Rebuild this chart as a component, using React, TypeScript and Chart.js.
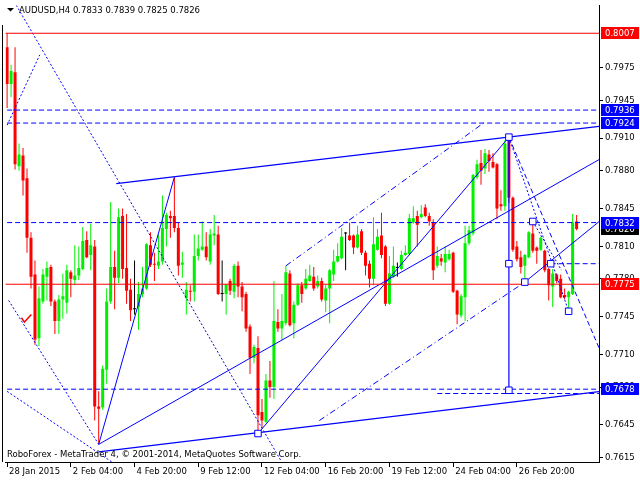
import React, { useEffect, useRef } from "react";
import { Chart, registerables } from "chart.js";

Chart.register(...registerables);

// ---------------- data (AUDUSD, H4) ----------------
const symbolName = "AUDUSD";
const periodName = "H4";

const opens = [
  0.7994, 0.7960, 0.7971, 0.7884, 0.7894, 0.7873, 0.7818, 0.7784, 0.7725, 0.7759,
  0.7782, 0.7791, 0.7759, 0.7741, 0.7761, 0.7758, 0.7786, 0.7779, 0.7783, 0.7789,
  0.7816, 0.7802, 0.7810, 0.7662, 0.7661, 0.7696, 0.7759, 0.7791, 0.7781, 0.7838,
  0.7790, 0.7770, 0.7752, 0.7754, 0.7766, 0.7771, 0.7811, 0.7794, 0.7792, 0.7796,
  0.7826, 0.7838, 0.7838, 0.7827, 0.7793, 0.7762, 0.7769, 0.7768, 0.7801, 0.7807,
  0.7810, 0.7796, 0.7820, 0.7821, 0.7766, 0.7766, 0.7778, 0.7768, 0.7792, 0.7773,
  0.7766, 0.7736, 0.7707, 0.7716, 0.7657, 0.7648, 0.7686, 0.7680, 0.7740, 0.7734,
  0.7739, 0.7785, 0.7739, 0.7756, 0.7774, 0.7771, 0.7778, 0.7782, 0.7773, 0.7778,
  0.7760, 0.7771, 0.7784, 0.7796, 0.7799, 0.7822, 0.7820, 0.7820, 0.7809, 0.7824,
  0.7804, 0.7794, 0.7780, 0.7807, 0.7820, 0.7810, 0.7757, 0.7782, 0.7790, 0.7789,
  0.7802, 0.7803, 0.7832, 0.7838, 0.7837, 0.7846, 0.7838, 0.7832, 0.7792, 0.7799,
  0.7795, 0.7798, 0.7804, 0.7769, 0.7746, 0.7763, 0.7813, 0.7822, 0.7874, 0.7887,
  0.7882, 0.7895, 0.7888, 0.7886, 0.7849, 0.7847, 0.7911, 0.7855, 0.7810, 0.7800,
  0.7792, 0.7800, 0.7822, 0.7809, 0.7807, 0.7806, 0.7789, 0.7773, 0.7784, 0.7780,
  0.7765, 0.7763, 0.7766, 0.7833,
];

const highs = [
  0.8007, 0.7978, 0.7994, 0.7905, 0.7901, 0.7882, 0.7823, 0.7797, 0.7773, 0.7789,
  0.7796, 0.7793, 0.7761, 0.7765, 0.7785, 0.7793, 0.7788, 0.7811, 0.7810, 0.7828,
  0.7824, 0.7831, 0.7816, 0.7676, 0.7700, 0.7771, 0.7851, 0.7806, 0.7845, 0.7845,
  0.7840, 0.7780, 0.7797, 0.7777, 0.7791, 0.7813, 0.7823, 0.7804, 0.7821, 0.7857,
  0.7841, 0.7843, 0.7874, 0.7832, 0.7805, 0.7777, 0.7774, 0.7821, 0.7821, 0.7833,
  0.7823, 0.7826, 0.7839, 0.7829, 0.7797, 0.7775, 0.7780, 0.7794, 0.7796, 0.7777,
  0.7768, 0.7738, 0.7719, 0.7727, 0.7669, 0.7692, 0.7704, 0.7778, 0.7752, 0.7766,
  0.7792, 0.7788, 0.7759, 0.7776, 0.7777, 0.7789, 0.7793, 0.7791, 0.7783, 0.7781,
  0.7775, 0.7789, 0.7807, 0.7813, 0.7827, 0.7823, 0.7832, 0.7821, 0.7829, 0.7826,
  0.7806, 0.7797, 0.7837, 0.7826, 0.7841, 0.7811, 0.7801, 0.7810, 0.7795, 0.7806,
  0.7811, 0.7840, 0.7847, 0.7843, 0.7848, 0.7849, 0.7841, 0.7835, 0.7810, 0.7803,
  0.7810, 0.7807, 0.7805, 0.7770, 0.7766, 0.7829, 0.7829, 0.7877, 0.7890, 0.7899,
  0.7900, 0.7899, 0.7896, 0.7887, 0.7862, 0.7908, 0.7911, 0.7856, 0.7815, 0.7806,
  0.7803, 0.7824, 0.7833, 0.7810, 0.7819, 0.7807, 0.7790, 0.7789, 0.7785, 0.7784,
  0.7771, 0.7769, 0.7840, 0.7839,
];

const lows = [
  0.7938, 0.7948, 0.7881, 0.7880, 0.7857, 0.7804, 0.7771, 0.7719, 0.7718, 0.7757,
  0.7760, 0.7755, 0.7729, 0.7729, 0.7743, 0.7748, 0.7763, 0.7774, 0.7779, 0.7788,
  0.7799, 0.7788, 0.7649, 0.7627, 0.7659, 0.7683, 0.7757, 0.7752, 0.7776, 0.7780,
  0.7757, 0.7741, 0.7747, 0.7733, 0.7763, 0.7770, 0.7791, 0.7778, 0.7789, 0.7793,
  0.7810, 0.7818, 0.7823, 0.7783, 0.7781, 0.7747, 0.7759, 0.7759, 0.7797, 0.7806,
  0.7797, 0.7793, 0.7811, 0.7765, 0.7759, 0.7747, 0.7765, 0.7762, 0.7763, 0.7750,
  0.7731, 0.7692, 0.7702, 0.7638, 0.7642, 0.7647, 0.7670, 0.7669, 0.7731, 0.7723,
  0.7737, 0.7736, 0.7725, 0.7755, 0.7758, 0.7770, 0.7777, 0.7769, 0.7771, 0.7759,
  0.7749, 0.7739, 0.7778, 0.7795, 0.7798, 0.7788, 0.7815, 0.7803, 0.7808, 0.7802,
  0.7783, 0.7772, 0.7774, 0.7806, 0.7799, 0.7755, 0.7756, 0.7781, 0.7782, 0.7788,
  0.7801, 0.7802, 0.7831, 0.7810, 0.7836, 0.7837, 0.7829, 0.7779, 0.7790, 0.7792,
  0.7786, 0.7797, 0.7767, 0.7738, 0.7744, 0.7741, 0.7811, 0.7820, 0.7872, 0.7867,
  0.7877, 0.7879, 0.7882, 0.7835, 0.7843, 0.7843, 0.7850, 0.7805, 0.7796, 0.7785,
  0.7777, 0.7799, 0.7804, 0.7794, 0.7806, 0.7786, 0.7760, 0.7754, 0.7776, 0.7762,
  0.7761, 0.7750, 0.7765, 0.7825,
];

const closes = [
  0.7960, 0.7972, 0.7886, 0.7895, 0.7871, 0.7818, 0.7782, 0.7724, 0.7762, 0.7784,
  0.7790, 0.7759, 0.7741, 0.7761, 0.7764, 0.7788, 0.7780, 0.7783, 0.7790, 0.7815,
  0.7800, 0.7811, 0.7662, 0.7660, 0.7697, 0.7759, 0.7791, 0.7781, 0.7837, 0.7789,
  0.7769, 0.7751, 0.7752, 0.7766, 0.7771, 0.7812, 0.7793, 0.7793, 0.7796, 0.7827,
  0.7839, 0.7836, 0.7827, 0.7792, 0.7795, 0.7770, 0.7768, 0.7801, 0.7808, 0.7810,
  0.7800, 0.7821, 0.7822, 0.7766, 0.7766, 0.7775, 0.7769, 0.7792, 0.7773, 0.7763,
  0.7734, 0.7707, 0.7717, 0.7654, 0.7649, 0.7686, 0.7680, 0.7741, 0.7734, 0.7741,
  0.7786, 0.7737, 0.7756, 0.7774, 0.7766, 0.7780, 0.7783, 0.7771, 0.7778, 0.7761,
  0.7771, 0.7788, 0.7796, 0.7801, 0.7819, 0.7822, 0.7816, 0.7809, 0.7821, 0.7804,
  0.7792, 0.7780, 0.7812, 0.7819, 0.7802, 0.7757, 0.7785, 0.7792, 0.7790, 0.7802,
  0.7804, 0.7836, 0.7836, 0.7830, 0.7840, 0.7838, 0.7833, 0.7788, 0.7801, 0.7796,
  0.7803, 0.7803, 0.7768, 0.7747, 0.7764, 0.7813, 0.7825, 0.7876, 0.7886, 0.7880,
  0.7896, 0.7889, 0.7883, 0.7845, 0.7847, 0.7905, 0.7855, 0.7807, 0.7798, 0.7791,
  0.7802, 0.7823, 0.7806, 0.7806, 0.7818, 0.7788, 0.7774, 0.7785, 0.7778, 0.7763,
  0.7763, 0.7768, 0.7832, 0.7826,
];

// time axis: bar index of each label and its text
const timeTickBars = [0, 16, 32, 48, 64, 80, 96, 112, 128];
const timeTickLabels = [
  "28 Jan 2015", "2 Feb 04:00", "4 Feb 20:00", "9 Feb 12:00", "12 Feb 04:00",
  "16 Feb 20:00", "19 Feb 12:00", "24 Feb 04:00", "26 Feb 20:00",
];

// price axis ticks
const priceTicks = [0.7975, 0.7945, 0.7910, 0.7880, 0.7845, 0.7810, 0.7780, 0.7745, 0.7710, 0.7680, 0.7645, 0.7615];

// price tags at the right edge (drawn in this order)
const tagPrices = [0.8007, 0.7936, 0.7924, 0.7826, 0.7832, 0.7775, 0.7678];

// horizontal levels
const redLevels = [0.8007, 0.7775];
const dashedLevels = [0.7936, 0.7924, 0.7832, 0.7678];
const shortDashedLevels = [0.7794, 0.7674];
const shortDashedStarts = [136.5, 108];

// trend lines: [bar index, price]
const channelTop = [[27.4, 0.7868], [149, 0.7921]];
const channelBottom = [[23, 0.7620], [149, 0.7676]];
const riseFromFebLow = [[23, 0.7627], [42, 0.7874]];
const riseFromMidLow = [[63, 0.7637], [126, 0.7911]];
const longRise = [[23, 0.7627], [149, 0.7891]];
const riseRight = [[130, 0.7777], [149, 0.7834]];
const verticalLine = [[126, 0.7911], [126, 0.7677]];
const dottedFall = [[2.3, 0.8033], [68.9, 0.7611]];
const dottedRiseLeft = [[0, 0.7922], [8.2, 0.7987]];
const dottedFallLeft = [[0.4, 0.7760], [23, 0.7627]];
const dottedFallLow = [[0, 0.7676], [27, 0.7609]];
const dashDotUpper = [[70, 0.7792], [120, 0.7925]];
const dashDotLower = [[78.4, 0.7649], [130, 0.7777]];
const dottedFromTop = [[126, 0.7911], [141, 0.7750]];
const dashedFromTop = [[126, 0.7911], [149, 0.7713]];
const dottedFromHigh = [[132, 0.7833], [139.2, 0.7788]];
const anchorSquares = [
  [63, 0.7637], [126, 0.7911], [126, 0.7794], [126, 0.7677],
  [132, 0.7833], [130, 0.7777], [136.5, 0.7794], [141, 0.7750],
];
const checkMark = [[3.6, 0.7744], [4.35, 0.7740], [6.1, 0.7747]];

const copyrightText = "RoboForex - MetaTrader 4, \u00A9 2001-2014, MetaQuotes Software Corp.";

// ---------------- view settings ----------------
const BULL = "#00F000";
const BEAR = "#FF0000";
const DOJI = "#000000";
const BLUE = "#0000FF";
const RED = "#FF0000";
const FONT = '"DejaVu Sans", sans-serif';
const FS = 8.5;
const tagColors = [RED, BLUE, BLUE, "#000000", BLUE, RED, BLUE];

const X_MIN = -0.375;
const X_MAX = 148.625;
const Y_MAX = 0.8007 + 28 / 10951;
const Y_MIN = 0.8007 - 434 / 10951;

const DASH = [5, 3];
const DOT = [2, 2];
const DASHDOT = [6, 3, 1, 3];

function toPts(arr: number[][]) {
  return arr.map(([x, y]) => ({ x, y }));
}

function lineDs(arr: number[][], color: string, dash: number[], width = 1) {
  return {
    type: "line" as const,
    data: toPts(arr),
    borderColor: color,
    borderWidth: width,
    borderDash: dash,
    pointRadius: 0,
    pointHoverRadius: 0,
    fill: false,
    tension: 0,
    order: 1,
  };
}

const overlayPlugin = {
  id: "mt4overlay",
  afterDraw(chart: any) {
    const ctx = chart.ctx as CanvasRenderingContext2D;
    const ys = chart.scales.y;
    ctx.save();
    // left frame line
    ctx.fillStyle = "#000";
    ctx.fillRect(2, 25, 1, 437);
    // price tags
    ctx.font = `${FS}px ${FONT}`;
    ctx.textBaseline = "middle";
    ctx.textAlign = "left";
    tagPrices.forEach((p, k) => {
      const yy = Math.round(ys.getPixelForValue(p));
      ctx.fillStyle = tagColors[k];
      ctx.fillRect(601, yy - 6, 38, 12);
      ctx.fillStyle = "#FFFFFF";
      ctx.fillText(p.toFixed(4), 605, yy + 0.5);
    });
    // title
    const n = opens.length - 1;
    ctx.fillStyle = "#000";
    ctx.beginPath();
    ctx.moveTo(7, 8);
    ctx.lineTo(14, 8);
    ctx.lineTo(10.5, 11.5);
    ctx.closePath();
    ctx.fill();
    const title = `${symbolName},${periodName} ${opens[n].toFixed(4)} ${highs[n].toFixed(4)} ${lows[n].toFixed(4)} ${closes[n].toFixed(4)}`;
    ctx.fillText(title, 19, 10.5);
    // copyright
    ctx.fillText(copyrightText, 7, 455);
    ctx.restore();
  },
};

export default function App() {
  const ref = useRef<HTMLCanvasElement>(null);

  useEffect(() => {
    const canvas = ref.current;
    if (!canvas) return;
    const idx = opens.map((_, i) => i);
    const colors = idx.map((i) =>
      closes[i] > opens[i] ? BULL : closes[i] < opens[i] ? BEAR : DOJI
    );

    const datasets: any[] = [
      {
        type: "bar",
        data: idx.map((i) => ({ x: i, y: [lows[i], highs[i]] })),
        backgroundColor: colors,
        barThickness: 1,
        grouped: false,
        minBarLength: 1,
        inflateAmount: 0,
        borderWidth: 0,
        order: 20,
      },
      {
        type: "bar",
        data: idx.map((i) => ({ x: i, y: [opens[i], closes[i]] })),
        backgroundColor: colors,
        barThickness: 3,
        grouped: false,
        minBarLength: 1,
        inflateAmount: 0,
        borderWidth: 0,
        order: 19,
      },
    ];

    redLevels.forEach((v) => datasets.push(lineDs([[-2, v], [151, v]], RED, [])));
    dashedLevels.forEach((v) => datasets.push(lineDs([[-2, v], [151, v]], BLUE, DASH)));
    shortDashedLevels.forEach((v, k) =>
      datasets.push(lineDs([[shortDashedStarts[k], v], [151, v]], BLUE, DASH))
    );
    datasets.push(lineDs(channelTop, BLUE, [], 1.2));
    datasets.push(lineDs(channelBottom, BLUE, [], 1.2));
    datasets.push(lineDs(riseFromFebLow, BLUE, []));
    datasets.push(lineDs(riseFromMidLow, BLUE, []));
    datasets.push(lineDs(longRise, BLUE, []));
    datasets.push(lineDs(riseRight, BLUE, []));
    datasets.push(lineDs(verticalLine, BLUE, [], 1.2));
    datasets.push(lineDs(dottedFall, BLUE, DOT));
    datasets.push(lineDs(dottedRiseLeft, BLUE, DOT));
    datasets.push(lineDs(dottedFallLeft, BLUE, DOT));
    datasets.push(lineDs(dottedFallLow, BLUE, DOT));
    datasets.push(lineDs(dashDotUpper, BLUE, DASHDOT));
    datasets.push(lineDs(dashDotLower, BLUE, DASHDOT));
    datasets.push(lineDs(dottedFromTop, BLUE, DOT));
    datasets.push(lineDs(dashedFromTop, BLUE, DASH));
    datasets.push(lineDs(dottedFromHigh, BLUE, DOT));
    datasets.push(lineDs(checkMark, RED, [], 1.5));
    datasets.push({
      type: "line",
      data: toPts(anchorSquares),
      showLine: false,
      pointStyle: "rect",
      pointRadius: 4.6,
      pointHoverRadius: 4.6,
      pointBackgroundColor: "#FFFFFF",
      pointBorderColor: BLUE,
      pointBorderWidth: 1,
      order: 0,
    });

    const tickFont = { family: FONT, size: FS };

    const chart = new Chart(canvas, {
      type: "bar",
      data: { datasets },
      plugins: [overlayPlugin],
      options: {
        responsive: false,
        maintainAspectRatio: false,
        devicePixelRatio: 1,
        animation: false,
        events: [],
        layout: { padding: { left: 3, top: 0, right: 0, bottom: 0 } },
        plugins: {
          legend: { display: false },
          tooltip: { enabled: false },
          title: { display: false },
        },
        scales: {
          x: {
            type: "linear",
            position: "bottom",
            min: X_MIN,
            max: X_MAX,
            offset: false,
            afterBuildTicks: (s: any) => {
              s.ticks = timeTickBars.map((v) => ({ value: v }));
            },
            afterFit: (s: any) => {
              s.height = 18;
              s.paddingLeft = 0;
              s.paddingRight = 0;
            },
            ticks: {
              autoSkip: false,
              maxRotation: 0,
              minRotation: 0,
              align: "start",
              labelOffset: 2,
              padding: 0,
              color: "#000",
              font: tickFont,
              callback: (_v: any, index: number) => timeTickLabels[index] ?? "",
            },
            grid: {
              offset: false,
              drawOnChartArea: false,
              drawTicks: true,
              tickLength: 5,
              color: "#000",
            },
            border: { display: true, color: "#000", width: 1 },
          },
          y: {
            type: "linear",
            position: "right",
            min: Y_MIN,
            max: Y_MAX,
            beginAtZero: false,
            afterBuildTicks: (s: any) => {
              s.ticks = priceTicks.map((v) => ({ value: v }));
            },
            afterFit: (s: any) => {
              s.width = 41;
              s.paddingTop = 0;
              s.paddingBottom = 0;
            },
            ticks: {
              autoSkip: false,
              padding: 2,
              color: "#000",
              font: tickFont,
              callback: (v: any) => Number(v).toFixed(4),
            },
            grid: {
              drawOnChartArea: false,
              drawTicks: true,
              tickLength: 4,
              color: "#000",
            },
            border: { display: true, color: "#000", width: 1 },
          },
        },
      } as any,
    });

    return () => chart.destroy();
  }, []);

  return (
    <div style={{ position: "fixed", left: 0, top: 0, width: 640, height: 480, background: "#FFFFFF" }}>
      <canvas ref={ref} width={640} height={480} style={{ display: "block", width: 640, height: 480 }} />
    </div>
  );
}
